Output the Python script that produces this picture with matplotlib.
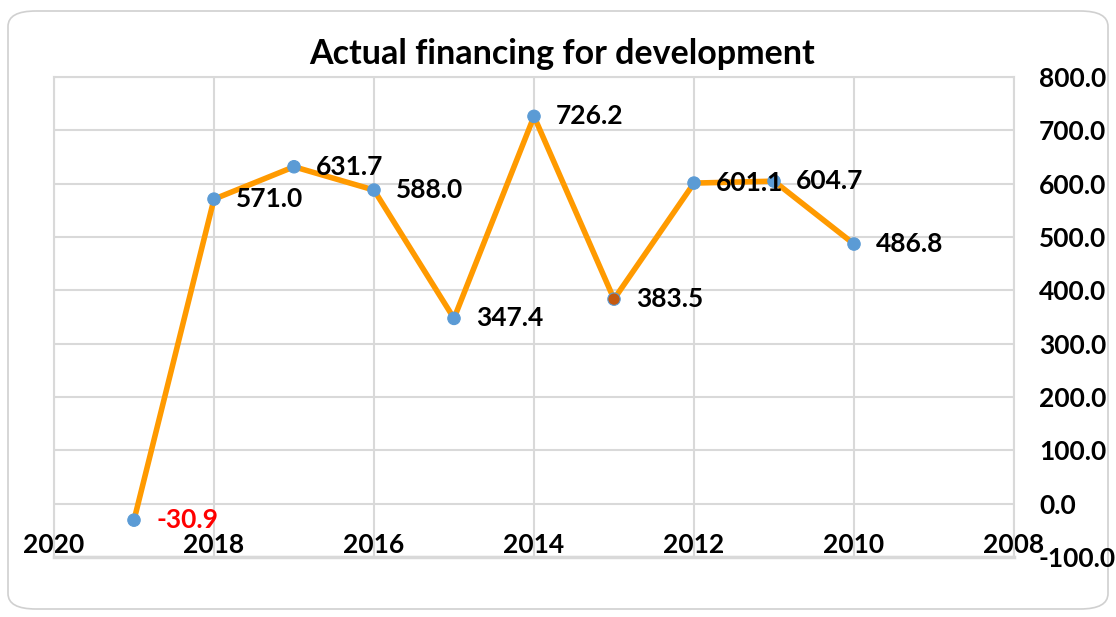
import matplotlib.pyplot as plt
from matplotlib.patches import FancyBboxPatch

plt.rcParams['font.family'] = ['Lato', 'DejaVu Sans']

years = [2019, 2018, 2017, 2016, 2015, 2014, 2013, 2012, 2011, 2010]
values = [-30.9, 571.0, 631.7, 588.0, 347.4, 726.2, 383.5, 601.1, 604.7, 486.8]
x_ticks = [2020, 2018, 2016, 2014, 2012, 2010, 2008]
y_ticks = [-100, 0, 100, 200, 300, 400, 500, 600, 700, 800]

fig = plt.figure(figsize=(11.16, 6.17), dpi=100)
ax = fig.add_axes([54 / 1116, 60 / 617, 960 / 1116, 480 / 617])

# rounded chart frame
frame = FancyBboxPatch((8 / 1116, 8 / 617), 1100 / 1116, 598 / 617,
                       boxstyle="round,pad=0,rounding_size=0.025",
                       transform=fig.transFigure, fc='white', ec='#D0D0D0',
                       lw=1.2, zorder=-10)
fig.patches.append(frame)

ax.plot(years, values, color='#FF9A00', lw=4, zorder=3)
colors = ['#5B9BD5'] * len(years)
colors[years.index(2013)] = '#C55A11'
ax.scatter(years, values, s=80, c=colors, edgecolors='#5B9BD5', linewidths=0.8, zorder=4)

for xv, yv in zip(years, values):
    ax.annotate(f"{yv:.1f}", (xv, yv), xytext=(16, 0), textcoords='offset points',
                ha='left', va='center', fontsize=19, fontweight='bold',
                color='red' if yv < 0 else 'black', zorder=5)

ax.set_xlim(2020, 2008)
ax.set_ylim(-100, 800)
ax.set_xticks(x_ticks)
ax.set_yticks(y_ticks)
ax.set_yticklabels([f"{v:.1f}" for v in y_ticks])
ax.yaxis.tick_right()
ax.tick_params(axis='y', length=0, pad=18, labelsize=19)
for lbl in ax.get_yticklabels():
    lbl.set_fontweight('bold')
    lbl.set_horizontalalignment('left')

ax.spines['bottom'].set_position(('data', 0))
ax.tick_params(axis='x', length=0, pad=21, labelsize=19)
for lbl in ax.get_xticklabels():
    lbl.set_fontweight('bold')

ax.grid(True, color='#D9D9D9', lw=1.5)
ax.set_axisbelow(True)
for s in ['top', 'left', 'right']:
    ax.spines[s].set_color('#D9D9D9')
    ax.spines[s].set_linewidth(1.5)
ax.spines['bottom'].set_visible(False)
# bottom border of plot area at -100
ax.axhline(-100, color='#D9D9D9', lw=2.5, clip_on=False, zorder=1)

fig.text(562 / 1116, 1 - 54 / 617, "Actual financing for development",
         ha='center', va='center', fontsize=24.5, fontweight='bold')

fig.savefig('out.png', dpi=100)
